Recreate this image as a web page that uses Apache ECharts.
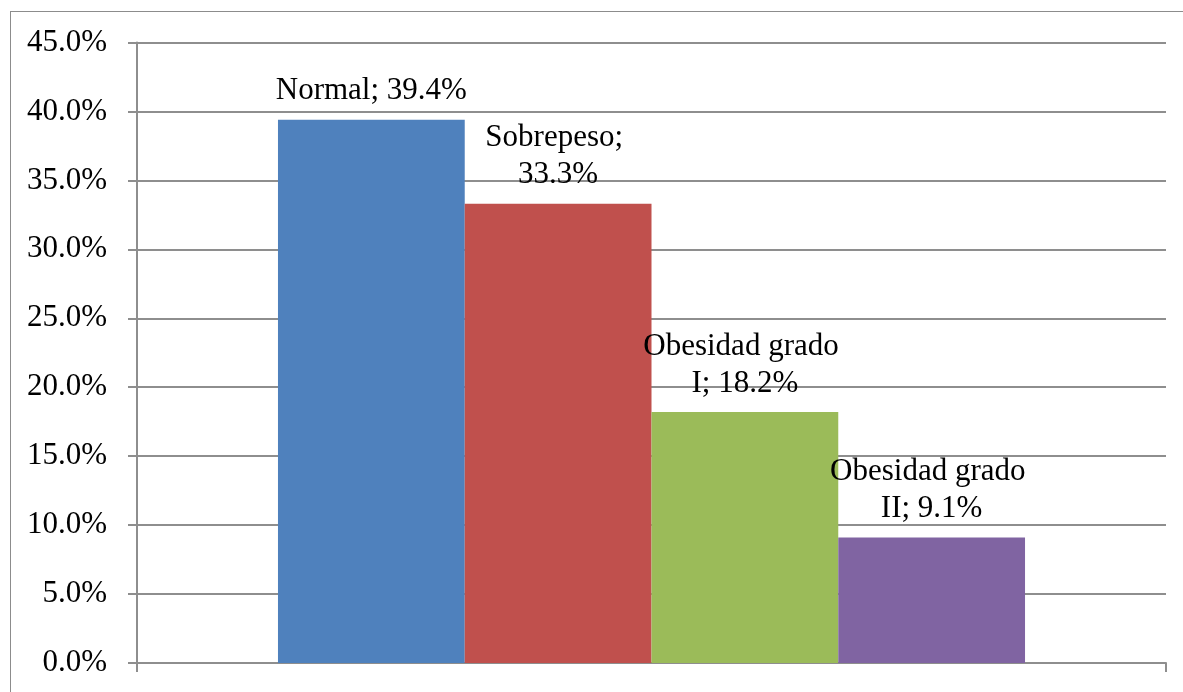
<!DOCTYPE html>
<html>
<head>
<meta charset="utf-8">
<script src="https://cdn.jsdelivr.net/npm/echarts@6/dist/echarts.min.js"></script>
<style>
  html, body { margin: 0; padding: 0; background: #fff; overflow: hidden; }
  #chart { position: absolute; left: 0; top: 0; width: 1183px; height: 692px; }
  .frame { position: absolute; left: 10px; top: 11px; width: 1300px; height: 800px; border: 1.5px solid #8c8c8c; }
</style>
</head>
<body>
<div class="frame"></div>
<div id="chart"></div>
<script>
// 数据
const categories = ['']
const seriesNames = ['Normal', 'Sobrepeso', 'Obesidad grado I', 'Obesidad grado II']
const seriesValues = [39.4, 33.3, 18.2, 9.1]
const seriesColors = ['#4F81BD', '#C0504D', '#9BBB59', '#8064A2']
const yTicks = { min: 0, max: 45, interval: 5 }

const fontFamily = '"Liberation Serif", "Times New Roman", serif'

const chart = echarts.init(document.getElementById('chart'), null, { renderer: 'canvas' })

// 构造每个系列
const seriesArrs = seriesNames.map((name, index) => {
  return {
    name: name,
    type: 'bar',
    data: [seriesValues[index]],
    barGap: '0%',
    barCategoryGap: '27.4%',
    itemStyle: { color: seriesColors[index] },
    label: {
      show: true,
      position: 'top',
      distance: 10,
      fontFamily: fontFamily,
      fontSize: 31,
      lineHeight: 37,
      color: '#000',
      width: 210,
      overflow: 'break',
      align: 'center',
      formatter: (p) => p.seriesName + '; ' + p.value.toFixed(1) + '%'
    }
  }
})

const option = {
  animation: false,
  grid: {
    left: 137,
    right: 17,
    top: 42.5,
    bottom: 29
  },
  xAxis: {
    type: 'category',
    data: categories,
    axisLine: { lineStyle: { color: '#8e8e8e', width: 2 } },
    axisTick: { show: true, length: 9, lineStyle: { color: '#8e8e8e', width: 2 } },
    axisLabel: { show: false }
  },
  yAxis: {
    type: 'value',
    min: yTicks.min,
    max: yTicks.max,
    interval: yTicks.interval,
    axisLine: { show: true, lineStyle: { color: '#8e8e8e', width: 2 } },
    axisTick: { show: true, length: 9, lineStyle: { color: '#8e8e8e', width: 2 } },
    splitLine: { lineStyle: { color: '#8e8e8e', width: 2 } },
    axisLabel: {
      margin: 30,
      fontFamily: fontFamily,
      fontSize: 31,
      color: '#000',
      formatter: (v) => v.toFixed(1) + '%'
    }
  },
  series: seriesArrs
}

chart.setOption(option)
</script>
</body>
</html>
